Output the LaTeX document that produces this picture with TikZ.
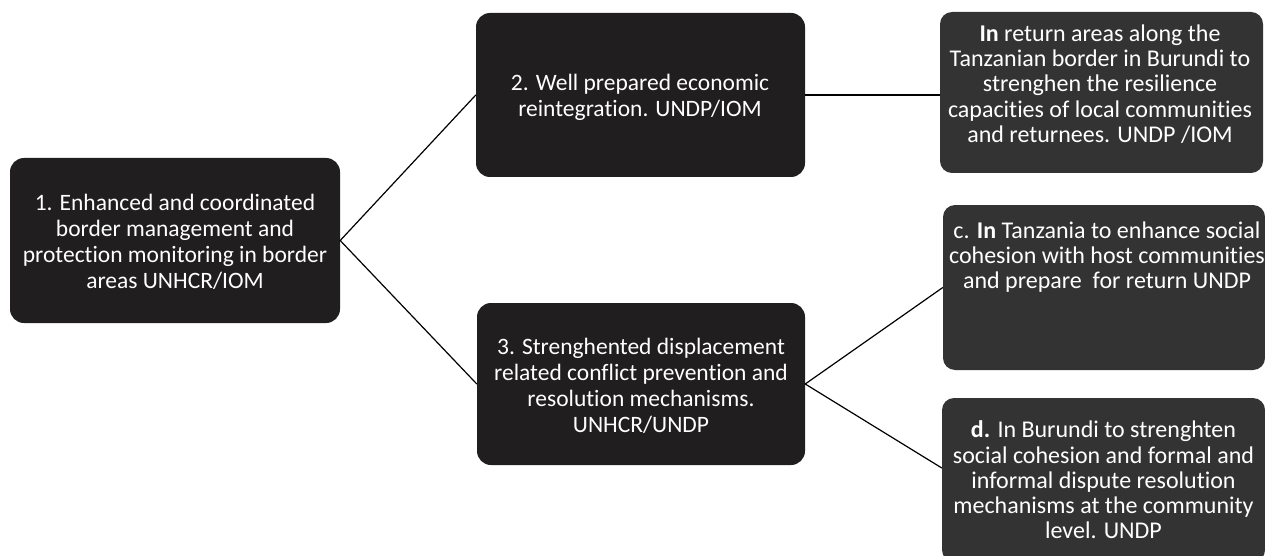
\documentclass[tikz,border=0pt]{standalone}
\usepackage{fontspec}
\setmainfont{Carlito}[Ligatures=NoCommon]
\definecolor{darkbox}{RGB}{32,30,31}
\definecolor{grainbox}{RGB}{52,51,51}

\begin{document}
\begin{tikzpicture}[x=1pt,y=-1pt,
	box/.style={fill=darkbox, rounded corners=14pt, inner sep=0pt},
	grain/.style={fill=grainbox, rounded corners=12pt, inner sep=0pt},
	txt/.style={text=white, align=center, font=\fontsize{23.5}{25.8}\selectfont},
	rtxt/.style={txt, font=\fontsize{24}{25.3}\selectfont},
	link/.style={black, line width=1.2pt}]

	\useasboundingbox (0,0) rectangle (1265,556);%页面

	\node [box, minimum width=330pt, minimum height=165pt] (b1) at (175,240.5) {};%左框
	\node [box, minimum width=329pt, minimum height=164pt] (b2) at (640.5,95) {};%中上框
	\node [box, minimum width=328pt, minimum height=162pt] (b3) at (641,384) {};%中下框
	\node [grain, minimum width=323pt, minimum height=161pt] (ba) at (1101.5,92.5) {};%右上框
	\node [grain, minimum width=322pt, minimum height=165pt] (bc) at (1104,287.5) {};%右中框
	\node [grain, minimum width=323pt, minimum height=164pt] (bd) at (1103.5,480) {};%右下框

	\node [txt] (t1) at (175,242) {1. Enhanced and coordinated\\border management and\\protection monitoring in border\\areas UNHCR/IOM};
	\node [txt] (t2) at (640,97) {2. Well prepared economic\\reintegration. UNDP/IOM};
	\node [txt] (t3) at (641,386) {3. Strenghented displacement\\related conflict prevention and\\resolution mechanisms.\\UNHCR/UNDP};
	\node [rtxt] (ta) at (1100,84) {\textbf{In} return areas along the\\Tanzanian border in Burundi to\\strenghen the resilience\\capacities of local communities\\and returnees. UNDP /IOM};
	\node [rtxt] (tc) at (1107,257) {c. \textbf{In} Tanzania to enhance social\\cohesion with host communities\\and prepare\ \ for return UNDP};
	\node [rtxt] (td) at (1103.5,480) {\textbf{d.} In Burundi to strenghten\\social cohesion and formal and\\informal dispute resolution\\mechanisms at the community\\level. UNDP};

	\draw [link] (b2.west)--(b1.east)--(b3.west);%左连线
	\draw [link, line width=1.8pt] (b2.east)--(b2.east -| ba.west);%上连线
	\draw [link] (bc.west)--(b3.east)--([yshift=12pt]bd.west);%右连线
\end{tikzpicture}
\end{document}
